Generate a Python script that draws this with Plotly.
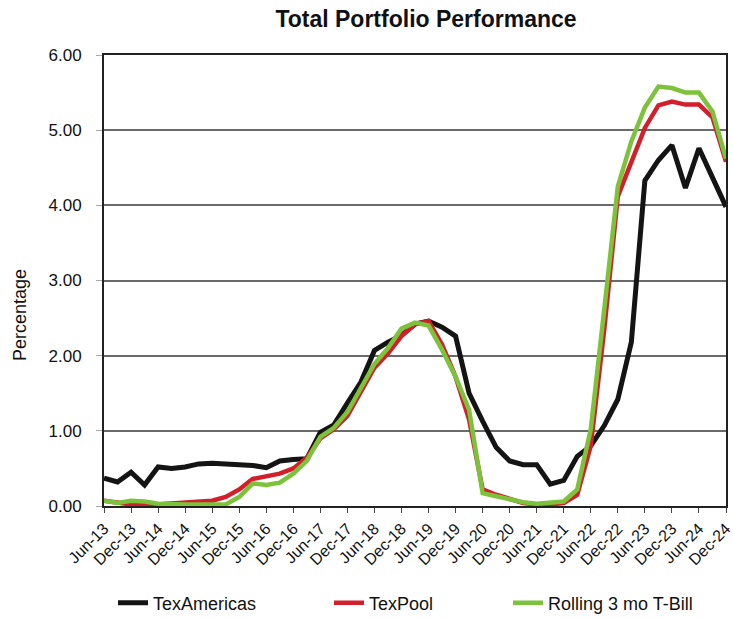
import plotly.graph_objects as go

quarters = ["Jun-13", "Sep-13", "Dec-13", "Mar-14", "Jun-14", "Sep-14", "Dec-14", "Mar-15",
            "Jun-15", "Sep-15", "Dec-15", "Mar-16", "Jun-16", "Sep-16", "Dec-16", "Mar-17",
            "Jun-17", "Sep-17", "Dec-17", "Mar-18", "Jun-18", "Sep-18", "Dec-18", "Mar-19",
            "Jun-19", "Sep-19", "Dec-19", "Mar-20", "Jun-20", "Sep-20", "Dec-20", "Mar-21",
            "Jun-21", "Sep-21", "Dec-21", "Mar-22", "Jun-22", "Sep-22", "Dec-22", "Mar-23",
            "Jun-23", "Sep-23", "Dec-23", "Mar-24", "Jun-24", "Sep-24", "Dec-24"]

tick_labels = quarters[::2]

texamericas = [0.37, 0.32, 0.45, 0.28, 0.52, 0.50, 0.52, 0.56, 0.57, 0.56, 0.55, 0.54,
               0.51, 0.60, 0.62, 0.63, 0.98, 1.08, 1.37, 1.65, 2.07, 2.18, 2.27, 2.42,
               2.46, 2.38, 2.26, 1.50, 1.13, 0.78, 0.60, 0.55, 0.55, 0.29, 0.34, 0.66,
               0.80, 1.07, 1.42, 2.18, 4.33, 4.60, 4.80, 4.23, 4.76, 4.36, 3.98]

texpool = [0.07, 0.04, 0.02, 0.01, 0.02, 0.04, 0.05, 0.06, 0.07, 0.12, 0.22, 0.36,
           0.40, 0.43, 0.50, 0.64, 0.90, 1.02, 1.20, 1.52, 1.84, 2.03, 2.26, 2.42,
           2.46, 2.15, 1.72, 1.15, 0.22, 0.15, 0.09, 0.04, 0.02, 0.02, 0.04, 0.15,
           0.80, 2.35, 4.12, 4.58, 5.03, 5.33, 5.38, 5.34, 5.34, 5.17, 4.58]

tbill = [0.07, 0.04, 0.07, 0.06, 0.03, 0.02, 0.02, 0.02, 0.02, 0.02, 0.12, 0.30,
         0.28, 0.31, 0.43, 0.60, 0.92, 1.04, 1.25, 1.57, 1.89, 2.10, 2.36, 2.44,
         2.40, 2.08, 1.72, 1.28, 0.17, 0.13, 0.09, 0.05, 0.03, 0.05, 0.06, 0.22,
         1.02, 2.62, 4.25, 4.85, 5.30, 5.58, 5.56, 5.50, 5.50, 5.25, 4.62]

y_ticks = [0, 1, 2, 3, 4, 5, 6]

FONT = "Arial, Liberation Sans, sans-serif"
W, H = 733, 618

fig = go.Figure()
fig.add_trace(go.Scatter(x=quarters, y=texamericas, mode="lines", name="TexAmericas",
                         line=dict(color="#141414", width=5), legend="legend"))
fig.add_trace(go.Scatter(x=quarters, y=texpool, mode="lines", name="TexPool",
                         line=dict(color="#d21f2b", width=4.5), legend="legend2"))
fig.add_trace(go.Scatter(x=quarters, y=tbill, mode="lines", name="Rolling 3 mo T-Bill",
                         line=dict(color="#7cc23a", width=4.5), legend="legend3"))


def leg(px_left):
    return dict(orientation="h", xref="container", yref="container",
                yanchor="middle", xanchor="left", x=px_left / W, y=1 - 603 / H,
                font=dict(family=FONT, size=18, color="#111"),
                bgcolor="rgba(0,0,0,0)", borderwidth=0, itemwidth=30)


fig.update_layout(
    width=W, height=H, showlegend=True,
    margin=dict(l=104, r=7, t=55, b=112, autoexpand=False),
    paper_bgcolor="white", plot_bgcolor="white",
    title=dict(text="<b>Total Portfolio Performance</b>", x=426 / W, xref="container",
               xanchor="center", y=1 - 19 / H, yanchor="middle",
               font=dict(family=FONT, size=23, color="#111")),
    legend=leg(113),
    legend2=leg(329),
    legend3=leg(508),
    xaxis=dict(
        type="category", range=[0, len(quarters) - 1], automargin=False,
        tickmode="array", tickvals=tick_labels, ticktext=tick_labels,
        tickangle=-45, tickfont=dict(family=FONT, size=16, color="#111"),
        ticks="outside", ticklen=5, tickcolor="#444",
        showgrid=False, showline=True, linecolor="#222", linewidth=2, mirror=True,
        zeroline=False,
    ),
    yaxis=dict(
        range=[0, 6], tickvals=y_ticks, tickformat=".2f", automargin=False,
        tickfont=dict(family=FONT, size=17, color="#111"),
        ticks="outside", ticklen=6, tickcolor="#aaa", ticklabelstandoff=11,
        showgrid=True, gridcolor="#6a6a6a", gridwidth=1.5,
        showline=True, linecolor="#222", linewidth=2, mirror=True,
        zeroline=False,
    ),
    annotations=[dict(text="Percentage", xref="paper", yref="paper",
                      x=(20 - 104) / 622, y=(506 - 315) / 451, textangle=-90,
                      showarrow=False, xanchor="center", yanchor="middle",
                      font=dict(family=FONT, size=18, color="#111"))],
)

fig.write_html("out.html", config={"displayModeBar": False},
               post_script="document.body.style.margin='0';")
